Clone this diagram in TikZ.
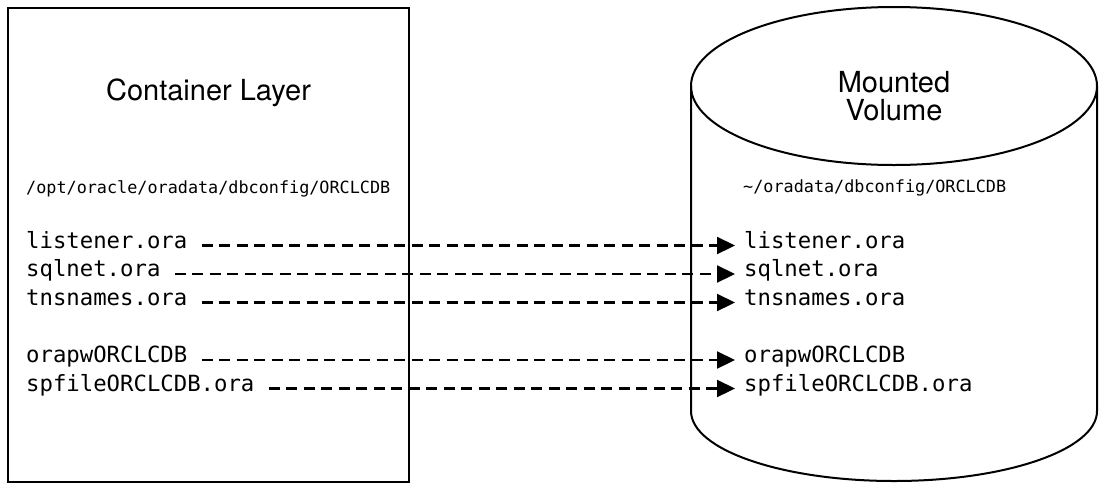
\documentclass[tikz,border=0pt]{standalone}
\usepackage{fontspec}
\setmainfont{TeX Gyre Heros}
\setmonofont{DejaVu Sans Mono}
\usetikzlibrary{arrows.meta}

\tikzset{
  outline/.style={draw=black, line width=2pt},
  title/.style={font=\fontsize{29}{28}\selectfont, align=center, inner sep=0pt},
  pathlabel/.style={font=\ttfamily\fontsize{16.8}{20}\selectfont, inner sep=0pt, anchor=base west},
  filename/.style={font=\ttfamily\fontsize{22.3}{26}\selectfont, inner sep=0pt, anchor=mid west},
  copyline/.style={draw=black, line width=2.2pt, dash pattern=on 11pt off 6.5pt,
    -{Triangle[length=18pt,width=17pt]}, shorten <=14pt, shorten >=9pt},
}

\begin{document}
\begin{tikzpicture}[x=1pt, y=-1pt]
  \useasboundingbox (0,0) rectangle (1099,483);

  % container layer box
  \draw[outline] (8,8) rectangle (409,482);
  \node[title, anchor=base] (clayer) at (208.5,100) {Container Layer};
  \node[pathlabel] (cpath) at (26,193) {/opt/oracle/oradata/dbconfig/ORCLCDB};

  % mounted volume cylinder
  \draw[outline] (691,86) -- (691,411)
    arc[start angle=180, end angle=360, x radius=203, y radius=-70]
    -- (1097,86);
  \draw[outline] (894,86) ellipse[x radius=203, y radius=79];
  \node[title, anchor=base] (mvol) at (894,120.7) {Mounted\\Volume};
  \node[pathlabel] (mpath) at (743,192) {\textasciitilde/oradata/dbconfig/ORCLCDB};

  % configuration files on both sides
  \foreach \id/\y/\name in {a/245.5/listener.ora, b/274/sqlnet.ora, c/302.5/tnsnames.ora,
                            d/360/orapwORCLCDB, e/388.5/spfileORCLCDB.ora} {
    \node[filename] (src\id) at (26,\y) {\name};
    \node[filename] (dst\id) at (744,\y) {\name};
  }

  % copy connectors
  \foreach \id in {a,b,c,d,e} {
    \draw[copyline] (src\id.mid east) -- (dst\id.mid west);
  }
\end{tikzpicture}
\end{document}
